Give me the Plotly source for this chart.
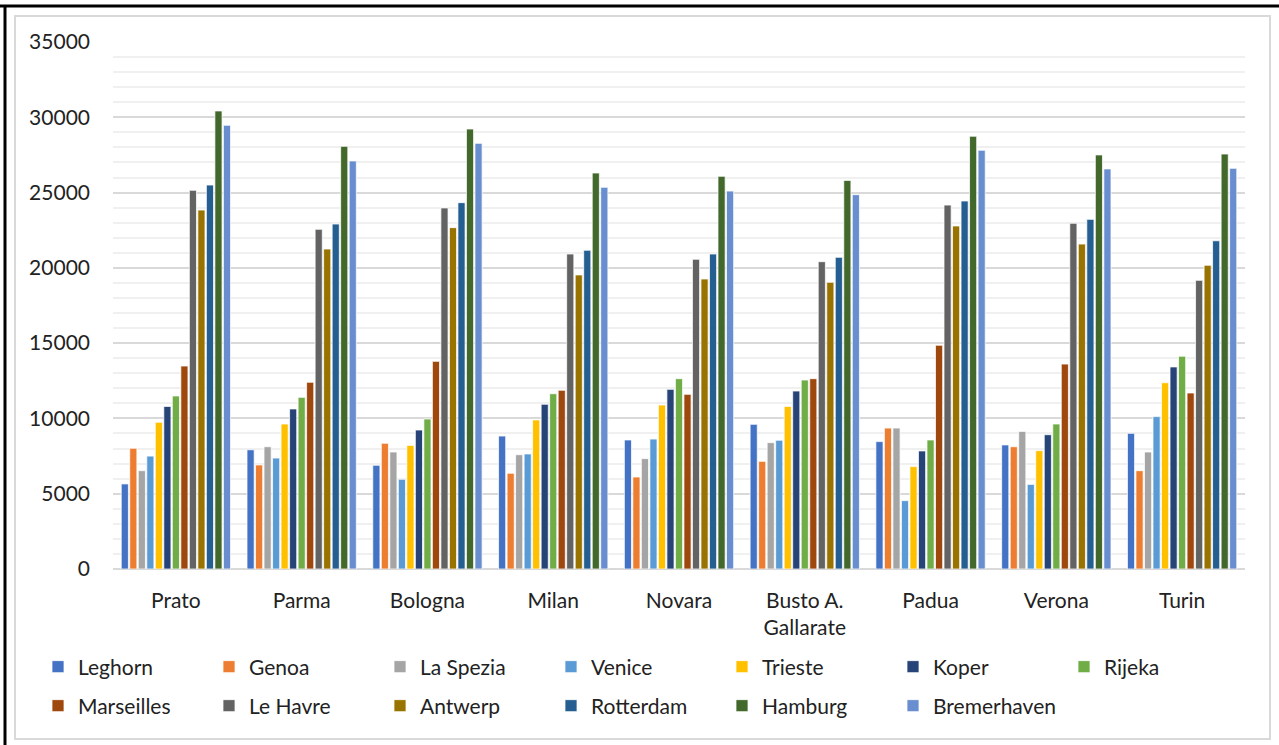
import plotly.graph_objects as go

# Categories (x axis)
cities = ["Prato", "Parma", "Bologna", "Milan", "Novara", "Busto A.<br>Gallarate",
          "Padua", "Verona", "Turin"]

# One series per port, values per city
leghorn = [5650, 7920, 6890, 8830, 8570, 9610, 8460, 8240, 9010]
genoa = [8020, 6910, 8350, 6360, 6110, 7150, 9360, 8120, 6530]
la_spezia = [6530, 8120, 7770, 7590, 7330, 8390, 9360, 9140, 7770]
venice = [7500, 7370, 5960, 7640, 8630, 8550, 4540, 5620, 10120]
trieste = [9740, 9630, 8210, 9900, 10890, 10800, 6800, 7860, 12370]
koper = [10800, 10630, 9230, 10940, 11930, 11820, 7840, 8920, 13420]
rijeka = [11490, 11400, 9960, 11640, 12640, 12550, 8570, 9630, 14130]
marseilles = [13480, 12400, 13790, 11870, 11600, 12640, 14860, 13610, 11690]
le_havre = [25150, 22560, 23980, 20920, 20570, 20410, 24170, 22960, 19170]
antwerp = [23840, 21250, 22670, 19530, 19260, 19040, 22780, 21580, 20170]
rotterdam = [25500, 22910, 24330, 21170, 20920, 20700, 24440, 23220, 21800]
hamburg = [30420, 28070, 29220, 26300, 26080, 25810, 28740, 27500, 27560]
bremerhaven = [29470, 27100, 28270, 25350, 25100, 24860, 27810, 26570, 26610]

series_names = ["Leghorn", "Genoa", "La Spezia", "Venice", "Trieste", "Koper", "Rijeka",
                "Marseilles", "Le Havre", "Antwerp", "Rotterdam", "Hamburg", "Bremerhaven"]
series_values = [leghorn, genoa, la_spezia, venice, trieste, koper, rijeka,
                 marseilles, le_havre, antwerp, rotterdam, hamburg, bremerhaven]
series_colors = ["#4472C4", "#ED7D31", "#A5A5A5", "#5B9BD5", "#FFC000", "#264478", "#70AD47",
                 "#9E480E", "#636363", "#997300", "#255E91", "#43682B", "#698ED0"]

y_ticks = [0, 5000, 10000, 15000, 20000, 25000, 30000, 35000]
y_tick_labels = [str(v) for v in y_ticks]

W, H = 1279, 745
L, R, T, B = 113, 34, 42, 176
PW, PH = W - L - R, H - T - B


def px_x(px):
    return (px - L) / PW


def px_y(py):
    return (H - B - py) / PH


FONT = "Lato, 'Open Sans', sans-serif"
TEXT = "#222222"

fig = go.Figure()
for i, (name, vals, col) in enumerate(zip(series_names, series_values, series_colors)):
    fig.add_trace(go.Bar(
        name=name, x=cities, y=vals,
        marker=dict(color=col, line=dict(color="white", width=0.75)),
        legend="legend" if i < 7 else "legend2",
    ))

legend_common = dict(
    orientation="h", xanchor="left", yanchor="middle",
    x=px_x(38), font=dict(family=FONT, size=21, color=TEXT),
    entrywidth=126, entrywidthmode="pixels", itemwidth=30,
    bgcolor="rgba(0,0,0,0)", traceorder="normal",
)

fig.update_layout(
    width=W, height=H,
    margin=dict(l=L, r=R, t=T, b=B),
    paper_bgcolor="white", plot_bgcolor="white",
    barmode="group", bargap=0.12, bargroupgap=0.16,
    font=dict(family=FONT, size=21, color=TEXT),
    showlegend=True,
    legend=dict(legend_common, y=px_y(667)),
    legend2=dict(legend_common, y=px_y(706)),
    xaxis=dict(
        showgrid=False, showline=False, zeroline=False, ticks="",
        tickfont=dict(family=FONT, size=21, color=TEXT),
        ticklabelstandoff=17,
    ),
    yaxis=dict(
        range=[0, 35000], tickvals=y_ticks, ticktext=y_tick_labels,
        showgrid=True, gridcolor="#d9d9d9", gridwidth=1.5,
        minor=dict(dtick=1000, showgrid=True, gridcolor="#f0f0f0", gridwidth=1.5),
        zeroline=True, zerolinecolor="#d9d9d9", zerolinewidth=2,
        showline=False, ticks="",
        tickfont=dict(family=FONT, size=21, color=TEXT),
        ticklabelstandoff=22,
    ),
    shapes=[
        # outer frame: black top and left edges
        dict(type="line", xref="paper", yref="paper",
             x0=px_x(0), x1=px_x(W), y0=px_y(6), y1=px_y(6),
             line=dict(color="black", width=3)),
        dict(type="line", xref="paper", yref="paper",
             x0=px_x(5), x1=px_x(5), y0=px_y(6), y1=px_y(H),
             line=dict(color="black", width=3)),
        # light chart-area border
        dict(type="rect", xref="paper", yref="paper",
             x0=px_x(15), x1=px_x(1270), y0=px_y(16), y1=px_y(739),
             line=dict(color="#d9d9d9", width=2), layer="below"),
    ],
)

fig.write_html("out.html")
